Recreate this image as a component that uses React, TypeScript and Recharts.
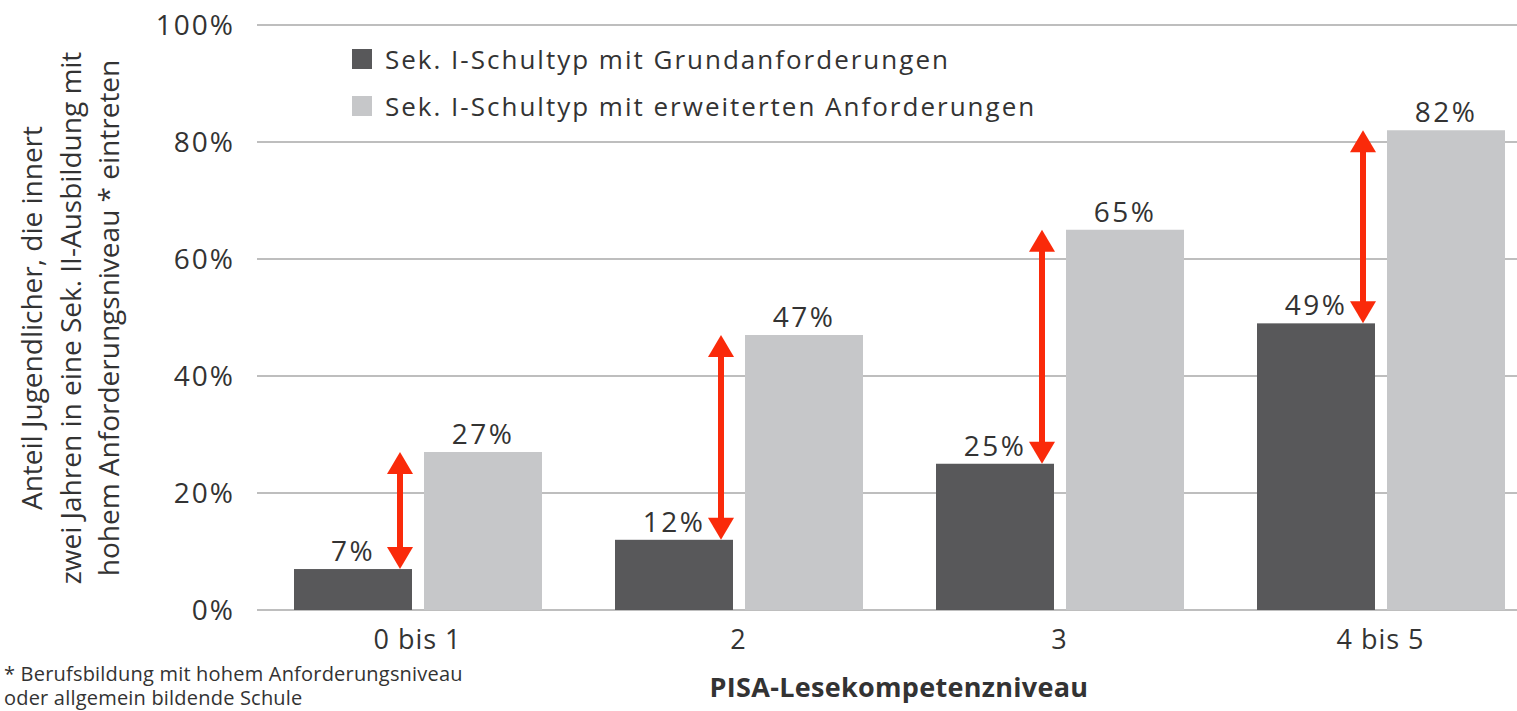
import React from 'react';
import { BarChart, Bar, XAxis, YAxis, CartesianGrid, LabelList } from 'recharts';

const levels = ['0 bis 1', '2', '3', '4 bis 5'];
const grund = [7, 12, 25, 49];
const erweitert = [27, 47, 65, 82];
const yTicks = [0, 20, 40, 60, 80, 100];

const seriesNames = ['Sek. I-Schultyp mit Grundanforderungen', 'Sek. I-Schultyp mit erweiterten Anforderungen'];
const yTitle = [
    'Anteil Jugendlicher, die innert',
    'zwei Jahren in eine Sek. II-Ausbildung mit',
    'hohem Anforderungsniveau * eintreten',
];
const xTitle = 'PISA-Lesekompetenzniveau';
const footnote = ['* Berufsbildung mit hohem Anforderungsniveau', 'oder allgemein bildende Schule'];

const DARK = '#58585a';
const LIGHT = '#c6c7c9';
const RED = '#fa2a0a';
const TEXT = '#333333';
const FONT = '"Open Sans", sans-serif';

const data = levels.map((level, i) => ({ level, grund: grund[i], erweitert: erweitert[i] }));

// dark bar plus the red double arrow up to the light bar's height
function DarkBarShape(props: any) {
    const { x, y, width, height, payload } = props;
    const base = y + height;
    const unit = height / payload.grund;
    const top = base - payload.erweitert * unit;
    const ax = x + width - 12;
    const head = 22;
    const hw = 13;
    const sw = 3;
    return (
        <g>
            <rect x={x} y={y} width={width} height={height} fill={DARK} />
            <rect x={ax - sw} y={top + head - 2} width={sw * 2} height={y - top - head * 2 + 4} fill={RED} />
            <polygon points={`${ax},${top} ${ax - hw},${top + head} ${ax + hw},${top + head}`} fill={RED} />
            <polygon points={`${ax},${y} ${ax - hw},${y - head} ${ax + hw},${y - head}`} fill={RED} />
        </g>
    );
}

function XTick(props: any) {
    const { x, y, payload } = props;
    return (
        <text x={x} y={y + 31} textAnchor="middle" fontSize={27} fill={TEXT} fontFamily={FONT} letterSpacing={1}>
            {payload.value}
        </text>
    );
}

function renderYTitle() {
    const xs = [35, 74, 112];
    return (
        <g>
            {yTitle.map((line, i) => (
                <text
                    key={i}
                    x={xs[i]}
                    y={318}
                    transform={`rotate(-90, ${xs[i]}, 318)`}
                    textAnchor="middle"
                    dominantBaseline="middle"
                    fontSize={28}
                    fill={TEXT}
                    fontFamily={FONT}
                >
                    {line}
                </text>
            ))}
        </g>
    );
}

function LegendBox() {
    const colors = [DARK, LIGHT];
    return (
        <div style={{ position: 'absolute', left: 352, top: 35, fontFamily: FONT }}>
            {seriesNames.map((name, i) => (
                <div key={name} style={{ display: 'flex', alignItems: 'center', height: 47 }}>
                    <span style={{ width: 20, height: 20, background: colors[i], display: 'inline-block', marginRight: 13 }} />
                    <span style={{ fontSize: 26, color: TEXT, letterSpacing: 2 }}>{name}</span>
                </div>
            ))}
        </div>
    );
}

export default function App() {
    return (
        <div style={{ position: 'absolute', left: 0, top: 0, width: 1517, height: 711, overflow: 'hidden', background: '#fff' }}>
            <BarChart
                width={1541}
                height={711}
                data={data}
                margin={{ top: 25, right: 0, left: 0, bottom: 0 }}
                barCategoryGap={37}
                barGap={12}
            >
                <CartesianGrid vertical={false} stroke="#a8a8a8" strokeWidth={1.5} />
                <XAxis
                    dataKey="level"
                    height={101}
                    axisLine={false}
                    tickLine={false}
                    tick={<XTick />}
                    label={{ value: xTitle, position: 'insideBottom', offset: 14, fontSize: 27, fontWeight: 700, fill: TEXT, fontFamily: FONT, letterSpacing: 0.3 }}
                />
                <YAxis
                    width={257}
                    domain={[0, 100]}
                    ticks={yTicks}
                    tickFormatter={(v) => `${v}%`}
                    axisLine={false}
                    tickLine={false}
                    tickMargin={16}
                    tick={{ fontSize: 28, fill: TEXT, fontFamily: FONT, letterSpacing: 2 }}
                    label={{ content: renderYTitle }}
                />
                <Bar dataKey="grund" name={seriesNames[0]} fill={DARK} shape={<DarkBarShape />} isAnimationActive={false}>
                    <LabelList dataKey="grund" position="top" offset={8} formatter={(v: any) => `${v}%`} fontSize={28} fill={TEXT} fontFamily={FONT} letterSpacing={2.5} />
                </Bar>
                <Bar dataKey="erweitert" name={seriesNames[1]} fill={LIGHT} isAnimationActive={false}>
                    <LabelList dataKey="erweitert" position="top" offset={8} formatter={(v: any) => `${v}%`} fontSize={28} fill={TEXT} fontFamily={FONT} letterSpacing={2.5} />
                </Bar>
            </BarChart>
            <LegendBox />
            <div style={{ position: 'absolute', left: 4, top: 662, fontFamily: FONT, fontSize: 20, lineHeight: '24px', color: TEXT, letterSpacing: 0.2 }}>
                {footnote.map((l) => (
                    <div key={l}>{l}</div>
                ))}
            </div>
        </div>
    );
}
